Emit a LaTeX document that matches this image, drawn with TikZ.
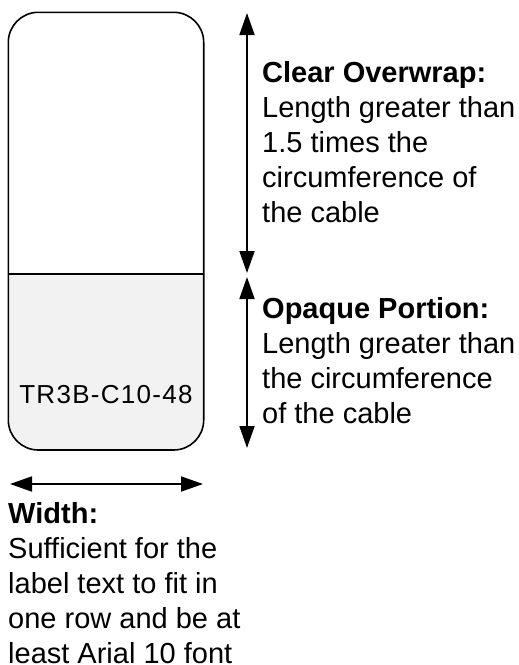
\documentclass[tikz,border=0pt]{standalone}
\usepackage{fontspec}
\setmainfont{Liberation Sans}
\newfontfamily\codefont[LetterSpace=5]{Liberation Sans}
\usetikzlibrary{arrows.meta}
\definecolor{opaquefill}{HTML}{F2F2F2}
\tikzset{
  outline/.style={line width=1.6pt},
  dim/.style={line width=1.8pt, {Triangle[length=22pt,width=15pt]}-{Triangle[length=22pt,width=15pt]}},
  note/.style={anchor=base west, inner sep=0pt, font=\fontsize{29}{35}\selectfont},
}
\begin{document}
\begin{tikzpicture}[x=1pt,y=-1pt]
\useasboundingbox (0,0) rectangle (519,665);
% label outline corners and the divider between the clear and opaque parts
\coordinate (tl) at (8.3,12.3);
\coordinate (br) at (203.7,450);
\coordinate (dl) at (8.3,274);
\coordinate (dr) at (203.7,274);
% opaque part, shaded
\begin{scope}
  \clip[rounded corners=30pt] (tl) rectangle (br);
  \fill[opaquefill] (dl) rectangle (br);
\end{scope}
\draw[outline, rounded corners=30pt] (tl) rectangle (br);
\draw[outline] (dl) -- (dr);
\node[anchor=base, inner sep=0pt, font=\codefont\fontsize{26}{30}\selectfont] (code) at (106,403) {TR3B-C10-48};
% dimension arrows
\coordinate (c1) at (247,13);
\coordinate (c2) at (247,273);
\coordinate (o1) at (247,277);
\coordinate (o2) at (247,448);
\coordinate (w1) at (10,484);
\coordinate (w2) at (203,484);
\draw[dim] (c1) -- (c2);
\draw[dim] (o1) -- (o2);
\draw[dim] (w1) -- (w2);
% explanations
\node[note] (clear) at (262,82) {\begin{tabular}[t]{@{}l@{}}\textbf{Clear Overwrap:}\\Length greater than\\1.5 times the\\circumference of\\the cable\end{tabular}};
\node[note] (opaque) at (262,318) {\begin{tabular}[t]{@{}l@{}}\textbf{Opaque Portion:}\\Length greater than\\the circumference\\of the cable\end{tabular}};
\node[note] (width) at (8,523) {\begin{tabular}[t]{@{}l@{}}\textbf{Width:}\\Sufficient for the\\label text to fit in\\one row and be at\\least Arial 10 font\end{tabular}};
\end{tikzpicture}
\end{document}
